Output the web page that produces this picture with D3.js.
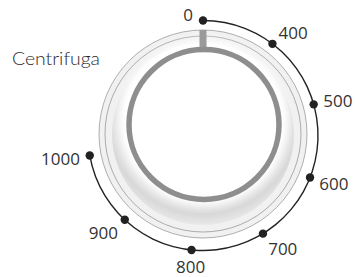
<!DOCTYPE html>
<html><head><meta charset="utf-8">
<script src="https://cdn.jsdelivr.net/npm/d3@7"></script>
<style>
html,body{margin:0;padding:0;background:#fff;}
svg{display:block;}
</style></head>
<body>
<svg id="chart" width="355" height="277"></svg>
<script>
// ---- data ----
const speedLabels = ["0", "400", "500", "600", "700", "800", "900", "1000"];
const dialTitle = "Centrifuga";
const sweepDegrees = [0, 260];

// ---- layout ----
const W = 355, H = 277;
const cx = 203, cy = 135.5;      // dial centre
const dialR = 115;
const svg = d3.select("#chart");
const defs = svg.append("defs");

const angle = d3.scalePoint().domain(speedLabels).range(sweepDegrees).padding(0);
const rad = d => angle(d) * Math.PI / 180;

// gradient for knob bevel
const rg = defs.append("radialGradient").attr("id", "bevel")
  .attr("cx", "50%").attr("cy", "42%").attr("r", "58%");
rg.append("stop").attr("offset", "0.72").attr("stop-color", "#ffffff");
rg.append("stop").attr("offset", "0.90").attr("stop-color", "#d8d8d8");
rg.append("stop").attr("offset", "1").attr("stop-color", "#e8e8e8");

const blur = defs.append("filter").attr("id", "soft")
  .attr("x", "-20%").attr("y", "-20%").attr("width", "140%").attr("height", "140%");
blur.append("feGaussianBlur").attr("stdDeviation", 4.5);

const knob = svg.append("g").attr("transform", `translate(${cx},${cy - 1.5})`);
knob.append("circle").attr("r", 104).attr("fill", "#f1f1f1").attr("stroke", "#9a9a9a").attr("stroke-width", 0.8);
knob.append("circle").attr("r", 98).attr("fill", "none").attr("stroke", "#7a7a7a").attr("stroke-width", 0.6);
knob.append("circle").attr("r", 91).attr("fill", "url(#bevel)");
knob.append("circle").attr("cx", 1).attr("cy", -12).attr("r", 82)
  .attr("fill", "#ffffff").attr("filter", "url(#soft)");
// pointer bar
knob.append("rect").attr("x", -3.5).attr("y", -104).attr("width", 7).attr("height", 20)
  .attr("fill", "#9a9a9a");
// gray ring
knob.append("circle").attr("cx", 1).attr("cy", -9.5).attr("r", 75)
  .attr("fill", "none").attr("stroke", "#8e8e8e").attr("stroke-width", 5.5);

// ---- dial scale ----
const dial = svg.append("g").attr("transform", `translate(${cx},${cy})`);
const arc = d3.arc().innerRadius(dialR - 0.7).outerRadius(dialR + 0.7)
  .startAngle(rad(speedLabels[0])).endAngle(rad(speedLabels[speedLabels.length - 1]));
dial.append("path").attr("d", arc()).attr("fill", "#222");

dial.selectAll("circle.dot").data(speedLabels).join("circle")
  .attr("class", "dot")
  .attr("cx", d => dialR * Math.sin(rad(d)))
  .attr("cy", d => -dialR * Math.cos(rad(d)))
  .attr("r", 4.2).attr("fill", "#222");

dial.selectAll("text.lbl").data(speedLabels).join("text")
  .attr("class", "lbl")
  .each(function(d, i) {
    const a = rad(d), s = Math.sin(a), c = Math.cos(a);
    const dx = dialR * s, dy = -dialR * c;
    let x, y, anchor;
    if (i === 0) {
      x = dx - 10; y = dy - 6; anchor = "end";
    } else {
      x = dx + 10 * s; y = dy - 10 * c;
      y -= c * (c > 0 ? 4 : 7);
      anchor = s > 0.3 ? "start" : (s < -0.3 ? "end" : "middle");
    }
    d3.select(this).attr("x", x).attr("y", y).attr("text-anchor", anchor)
      .attr("dominant-baseline", "central");
  })
  .attr("font-family", "'Open Sans', 'Liberation Sans', sans-serif")
  .attr("font-weight", 400)
  .attr("font-size", 17)
  .attr("fill", "#333")
  .text(d => d);

svg.append("text").attr("x", 12).attr("y", 65)
  .attr("font-family", "'Lato', 'Open Sans', sans-serif")
  .attr("font-weight", 300)
  .attr("font-size", 17)
  .attr("fill", "#2a2a2a")
  .attr("textLength", 88).attr("lengthAdjust", "spacingAndGlyphs")
  .text(dialTitle);
</script>
</body></html>
